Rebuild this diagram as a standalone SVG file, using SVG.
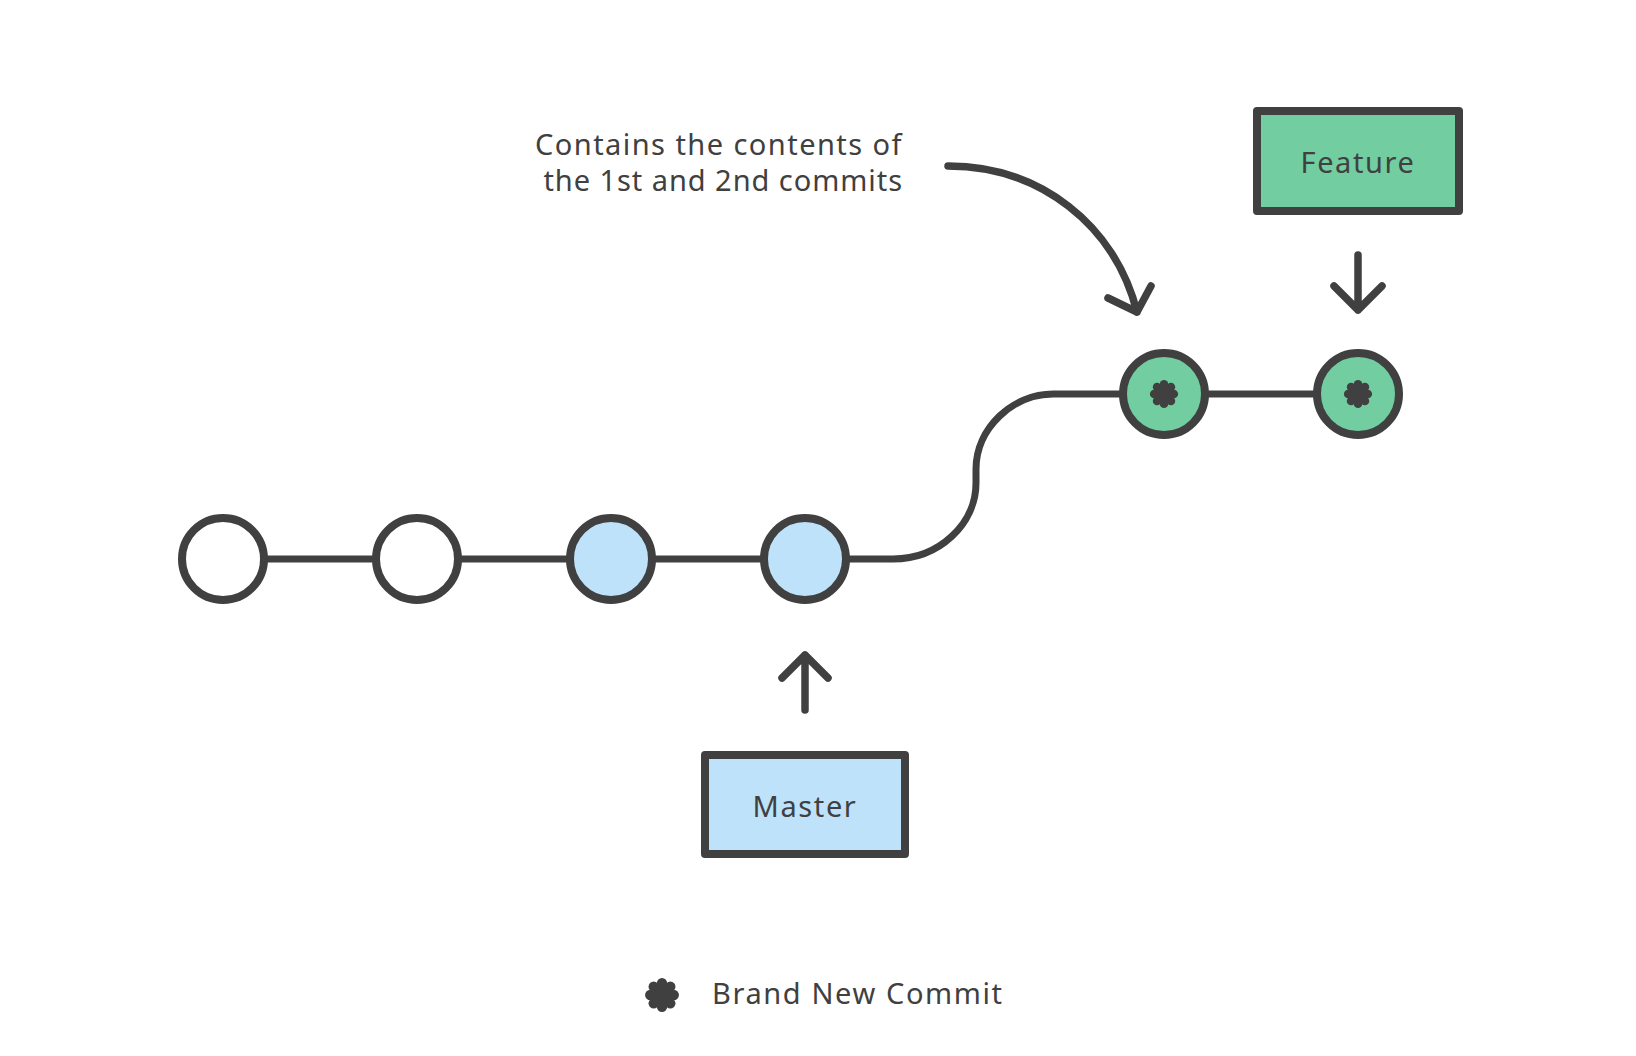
<svg xmlns="http://www.w3.org/2000/svg" xmlns:xlink="http://www.w3.org/1999/xlink" width="1636" height="1056" viewBox="0 0 1636 1056">
  <style>
    .ln { fill: none; stroke: #404040; stroke-width: 7.5; stroke-linecap: round; stroke-linejoin: round; }
    .edge { fill: none; stroke: #404040; stroke-width: 7; }
    .c { stroke: #404040; stroke-width: 8; }
    .white { fill: #ffffff; }
    .blue { fill: #BEE2FA; }
    .green { fill: #72CDA1; }
    .box { stroke: #404040; stroke-width: 8; stroke-linejoin: round; }
    .t { font-family: "Noto Sans", "Liberation Sans", sans-serif; font-size: 29px; fill: #404040; letter-spacing: 1.6px; }
  </style>
  <defs>
    <g id="star" fill="#404040">
      <circle cx="0" cy="0" r="7.5"/>
      <circle cx="0" cy="-9.8" r="4.3"/>
      <circle cx="6.93" cy="-6.93" r="4.3"/>
      <circle cx="9.8" cy="0" r="4.3"/>
      <circle cx="6.93" cy="6.93" r="4.3"/>
      <circle cx="0" cy="9.8" r="4.3"/>
      <circle cx="-6.93" cy="6.93" r="4.3"/>
      <circle cx="-9.8" cy="0" r="4.3"/>
      <circle cx="-6.93" cy="-6.93" r="4.3"/>
    </g>
  </defs>
  <rect width="1636" height="1056" fill="#ffffff"/>

  <g id="connectors">
    <path class="edge" d="M 223 559 H 893 C 939 559 976 524 976 483 V 469 C 976 428 1013 394 1053 394 H 1358"/>
    <path class="ln" d="M 805 710 V 655 M 782 678 L 805 655 L 828 678"/>
    <path class="ln" d="M 1358 255 V 310 M 1334 286 L 1358 310 L 1382 286"/>
    <path class="ln" d="M 948 166 C 1040 166 1115 225 1137 312 M 1108 298 L 1137 312 L 1151 286"/>
  </g>

  <g id="commit1"><circle class="c white" cx="223" cy="559" r="41"/></g>
  <g id="commit2"><circle class="c white" cx="417" cy="559" r="41"/></g>
  <g id="commit3"><circle class="c blue" cx="611" cy="559" r="41"/></g>
  <g id="commit4"><circle class="c blue" cx="805" cy="559" r="41"/></g>
  <g id="commit5"><circle class="c green" cx="1164" cy="394" r="41"/><use xlink:href="#star" href="#star" x="1164" y="394"/></g>
  <g id="commit6"><circle class="c green" cx="1358" cy="394" r="41"/><use xlink:href="#star" href="#star" x="1358" y="394"/></g>

  <g id="master">
    <rect class="box blue" x="705" y="755" width="200" height="99"/>
    <text class="t" x="805" y="817" text-anchor="middle">Master</text>
  </g>
  <g id="feature">
    <rect class="box green" x="1257" y="111" width="202" height="100"/>
    <text class="t" x="1358" y="173" text-anchor="middle">Feature</text>
  </g>

  <g id="annotation">
    <text class="t" x="903" y="155" text-anchor="end" style="letter-spacing:1.45px">Contains the contents of</text>
    <text class="t" x="903" y="191" text-anchor="end" style="letter-spacing:0.95px">the 1st and 2nd commits</text>
  </g>

  <g id="legend">
    <use xlink:href="#star" href="#star" transform="translate(662 995) scale(1.2)"/>
    <text class="t" x="712" y="1004">Brand New Commit</text>
  </g>
</svg>
